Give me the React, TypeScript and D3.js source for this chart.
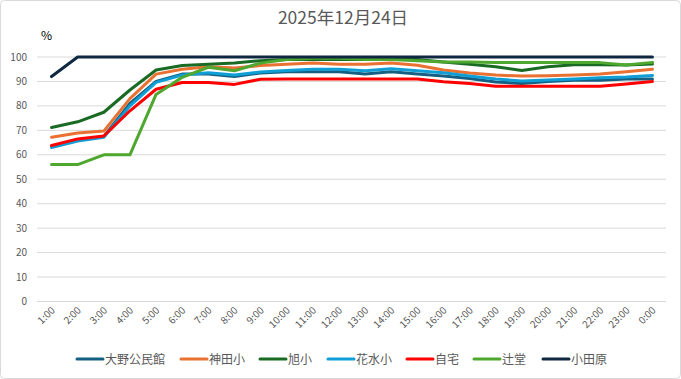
import React from "react";
import * as d3 from "d3";

const categories = ["1:00","2:00","3:00","4:00","5:00","6:00","7:00","8:00","9:00","10:00","11:00","12:00","13:00","14:00","15:00","16:00","17:00","18:00","19:00","20:00","21:00","22:00","23:00","0:00"];

const oono = [63.5,66,67.5,81,90,93,93,92,93.5,94,94,94,93,94,93,92.2,91.2,89.8,89.2,90,90.5,90.5,91,91];
const kanda = [67.2,68.9,69.7,83,93,95,96,95.5,96.5,97,97.5,97,97,97.5,96.6,94.7,93.5,92.6,92.2,92.3,92.6,93,94,95];
const asahi = [71.2,73.5,77.4,86.5,94.7,96.5,97,97.5,98.5,99,99,99,99,99,99,98,97,96,94.5,96,96.8,96.8,96.7,97.1];
const hanamizu = [63,65.6,67.2,80,89.6,92.6,93.6,92.6,93.9,94.5,95,95,94.4,95.2,94.4,93.6,92.2,91,90.2,90.6,91,91.5,91.8,92.4];
const jitaku = [63.8,66.5,67.7,78,86.8,89.6,89.6,88.8,90.9,91,91,91,91,91,91,89.9,89.2,88,88,88,88,88,89,90];
const tsujido = [56,56,60,60,84.7,91.7,95.8,94.4,97.5,99,99.5,99.5,99,99,98.5,98,98,97.8,97.7,97.7,97.7,97.7,96.7,97.8];
const odawara = [92,100,100,100,100,100,100,100,100,100,100,100,100,100,100,100,100,100,100,100,100,100,100,100];

const seriesNames = ["大野公民館","神田小","旭小","花水小","自宅","辻堂","小田原"];
const seriesValues = [oono, kanda, asahi, hanamizu, jitaku, tsujido, odawara];
const seriesColors = ["#156082","#e97132","#196b24","#0f9ed5","#ff0000","#4ea72e","#0e2841"];
const yTicks = [0,10,20,30,40,50,60,70,80,90,100];
const legendX = [77, 181, 260, 328, 407, 474, 543];

const W = 681, H = 379;
const FONT = "'Noto Sans CJK JP', 'Noto Sans', sans-serif";

export default function App() {
  const x = d3.scaleBand<string>().domain(categories).range([38.5, 665.5]);
  const y = d3.scaleLinear().domain([0, 100]).range([301.5, 57]);
  const cx = (c: string) => (x(c) as number) + x.bandwidth() / 2;
  const line = d3.line<number>().x((_, i) => cx(categories[i])).y(v => y(v));

  return (
    <svg width={W} height={H} style={{ position: "absolute", left: 0, top: 0, fontFamily: FONT }}>
      <rect x={0.5} y={0.5} width={W - 1} height={H - 1} rx={4} fill="#fff" stroke="#d9d9d9" />
      <text x={343} y={24} textAnchor="middle" fontSize={17.5} fill="#595959">2025年12月24日</text>
      <text x={41} y={40} fontSize={12} fill="#000">%</text>
      {yTicks.map(t => (
        <g key={t}>
          <line x1={37} x2={666} y1={y(t)} y2={y(t)} stroke="#d9d9d9" strokeWidth={1} />
          <text x={27} y={y(t) + 3.5} textAnchor="end" fontSize={10} fill="#595959">{t}</text>
        </g>
      ))}
      {categories.map(c => (
        <text key={c} transform={`translate(${cx(c) + 4},${311}) rotate(-45)`} textAnchor="end" fontSize={10} fill="#595959">{c}</text>
      ))}
      {seriesValues.map((vals, i) => (
        <path key={i} d={line(vals) as string} fill="none" stroke={seriesColors[i]} strokeWidth={3} strokeLinejoin="round" strokeLinecap="round" />
      ))}
      {seriesNames.map((n, i) => (
        <g key={n}>
          <line x1={legendX[i]} x2={legendX[i] + 26} y1={359} y2={359} stroke={seriesColors[i]} strokeWidth={3} strokeLinecap="round" />
          <text x={legendX[i] + 28} y={363.5} fontSize={12} fill="#595959">{n}</text>
        </g>
      ))}
    </svg>
  );
}
